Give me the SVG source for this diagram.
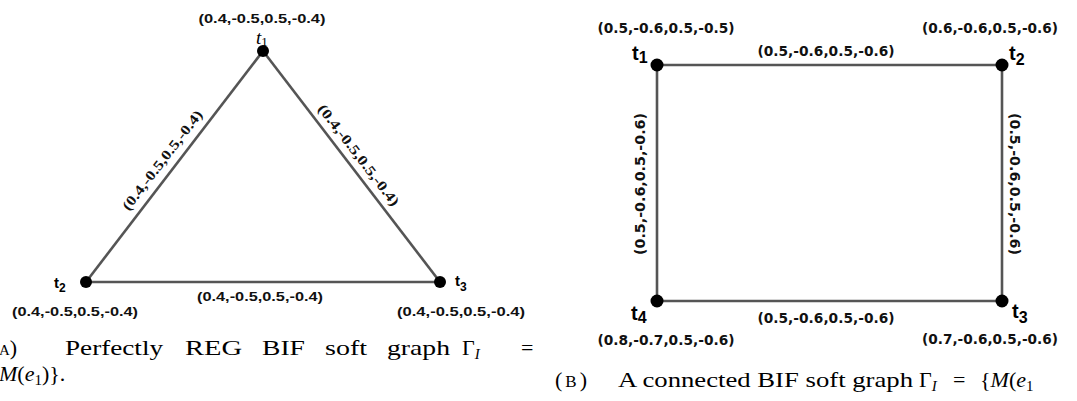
<svg xmlns="http://www.w3.org/2000/svg" width="1077" height="401" viewBox="0 0 1077 401">
<style>
.edge{stroke:#555;stroke-width:2.6;fill:none}
.node{fill:#000}
.val{font-family:"Liberation Sans",Arial,sans-serif;font-weight:bold;font-size:13px;fill:#111}
.rval{font-family:"DejaVu Sans","Liberation Sans",sans-serif;font-weight:bold;font-size:14px;fill:#111}
.sval{font-family:"Liberation Serif","Times New Roman",serif;font-weight:bold;font-size:14px;fill:#111}
.lab{font-family:"Liberation Sans",Arial,sans-serif;font-weight:bold;font-size:15px;fill:#000}
.rlab{font-family:"Liberation Sans",Arial,sans-serif;font-weight:bold;font-size:20px;fill:#000}
.ilab{font-family:"Liberation Serif","Times New Roman",serif;font-style:italic;font-size:19px;fill:#000}
.cap{font-family:"Liberation Serif","Times New Roman",serif;font-size:22px;fill:#000}
</style>
<rect width="1077" height="401" fill="#fff"/>
<g id="connectors">
<line class="edge" x1="263" y1="51" x2="86" y2="282"/>
<line class="edge" x1="263" y1="51" x2="440" y2="282"/>
<line class="edge" x1="86" y1="282" x2="440" y2="282"/>
<line class="edge" x1="657" y1="65" x2="1002" y2="65"/>
<line class="edge" x1="1002" y1="65" x2="1002" y2="301"/>
<line class="edge" x1="657" y1="301" x2="1002" y2="301"/>
<line class="edge" x1="657" y1="65" x2="657" y2="301"/>
<text class="sval" transform="translate(166,163) rotate(-52.5)" text-anchor="middle" textLength="122" lengthAdjust="spacingAndGlyphs">(0.4,-0.5,0.5,-0.4)</text>
<text class="sval" transform="translate(355,158) rotate(52.5)" text-anchor="middle" textLength="124" lengthAdjust="spacingAndGlyphs">(0.4,-0.5,0.5,-0.4)</text>
<text class="val" x="260" y="301" text-anchor="middle" textLength="126" lengthAdjust="spacingAndGlyphs">(0.4,-0.5,0.5,-0.4)</text>
<text class="rval" x="826" y="56" text-anchor="middle" textLength="137" lengthAdjust="spacingAndGlyphs">(0.5,-0.6,0.5,-0.6)</text>
<text class="rval" x="826" y="323" text-anchor="middle" textLength="137" lengthAdjust="spacingAndGlyphs">(0.5,-0.6,0.5,-0.6)</text>
<text class="rval" transform="translate(645,184) rotate(-90)" text-anchor="middle" textLength="142" lengthAdjust="spacingAndGlyphs">(0.5,-0.6,0.5,-0.6)</text>
<text class="rval" transform="translate(1010,184) rotate(90)" text-anchor="middle" textLength="142" lengthAdjust="spacingAndGlyphs">(0.5,-0.6,0.5,-0.6)</text>
</g>
<g id="t1a">
<circle class="node" cx="263" cy="51" r="6"/>
<text class="ilab" x="256" y="44">t<tspan font-size="13" font-style="normal" dy="2">1</tspan></text>
<text class="val" x="262" y="23" text-anchor="middle" textLength="127" lengthAdjust="spacingAndGlyphs">(0.4,-0.5,0.5,-0.4)</text>
</g>
<g id="t2a">
<circle class="node" cx="86" cy="282" r="6"/>
<text class="lab" x="54" y="288">t<tspan font-size="12" dy="4">2</tspan></text>
<text class="val" x="75" y="316" text-anchor="middle" textLength="126" lengthAdjust="spacingAndGlyphs">(0.4,-0.5,0.5,-0.4)</text>
</g>
<g id="t3a">
<circle class="node" cx="440" cy="282" r="6"/>
<text class="lab" x="455" y="286">t<tspan font-size="12" dy="5">3</tspan></text>
<text class="val" x="461" y="316" text-anchor="middle" textLength="128" lengthAdjust="spacingAndGlyphs">(0.4,-0.5,0.5,-0.4)</text>
</g>
<g id="t1b">
<circle class="node" cx="657" cy="65" r="6.5"/>
<text class="rlab" x="632" y="60">t<tspan font-size="16" dy="3">1</tspan></text>
<text class="rval" x="666" y="33" text-anchor="middle" textLength="137" lengthAdjust="spacingAndGlyphs">(0.5,-0.6,0.5,-0.5)</text>
</g>
<g id="t2b">
<circle class="node" cx="1002" cy="65" r="6.5"/>
<text class="rlab" x="1009" y="60">t<tspan font-size="16" dy="5">2</tspan></text>
<text class="rval" x="990" y="33" text-anchor="middle" textLength="136" lengthAdjust="spacingAndGlyphs">(0.6,-0.6,0.5,-0.6)</text>
</g>
<g id="t3b">
<circle class="node" cx="1002" cy="301" r="6.5"/>
<text class="rlab" x="1012" y="318">t<tspan font-size="16" dy="5">3</tspan></text>
<text class="rval" x="990" y="344" text-anchor="middle" textLength="136" lengthAdjust="spacingAndGlyphs">(0.7,-0.6,0.5,-0.6)</text>
</g>
<g id="t4b">
<circle class="node" cx="657" cy="301" r="6.5"/>
<text class="rlab" x="631" y="320">t<tspan font-size="16" dy="3">4</tspan></text>
<text class="rval" x="666" y="345" text-anchor="middle" textLength="137" lengthAdjust="spacingAndGlyphs">(0.8,-0.7,0.5,-0.6)</text>
</g>
<g id="captions">
<text class="cap" x="-1" y="355"><tspan font-size="15">A</tspan>)</text>
<text class="cap" x="65" y="355" textLength="98" lengthAdjust="spacingAndGlyphs">Perfectly</text>
<text class="cap" x="185" y="355" textLength="57" lengthAdjust="spacingAndGlyphs">REG</text>
<text class="cap" x="262" y="355" textLength="43" lengthAdjust="spacingAndGlyphs">BIF</text>
<text class="cap" x="325" y="355" textLength="42" lengthAdjust="spacingAndGlyphs">soft</text>
<text class="cap" x="387" y="355" textLength="63" lengthAdjust="spacingAndGlyphs">graph</text>
<text class="cap" x="462" y="355">Γ<tspan font-style="italic" font-size="15" dy="4">I</tspan></text>
<text class="cap" x="521" y="355">=</text>
<text class="cap" x="-1" y="381"><tspan font-style="italic">M</tspan>(<tspan font-style="italic">e</tspan><tspan font-size="15" dy="4">1</tspan><tspan dy="-4">)}.</tspan></text>
<text class="cap" x="555" y="387">(<tspan font-size="17" dx="3">B</tspan><tspan dx="3">)</tspan></text>
<text class="cap" x="618" y="387" textLength="295" lengthAdjust="spacingAndGlyphs">A connected BIF soft graph</text>
<text class="cap" x="919" y="387">Γ<tspan font-style="italic" font-size="15" dy="4">I</tspan></text>
<text class="cap" x="953" y="387">=</text>
<text class="cap" x="980" y="387">{<tspan font-style="italic">M</tspan>(<tspan font-style="italic">e</tspan><tspan font-size="15" dy="4">1</tspan></text>
</g>
</svg>
